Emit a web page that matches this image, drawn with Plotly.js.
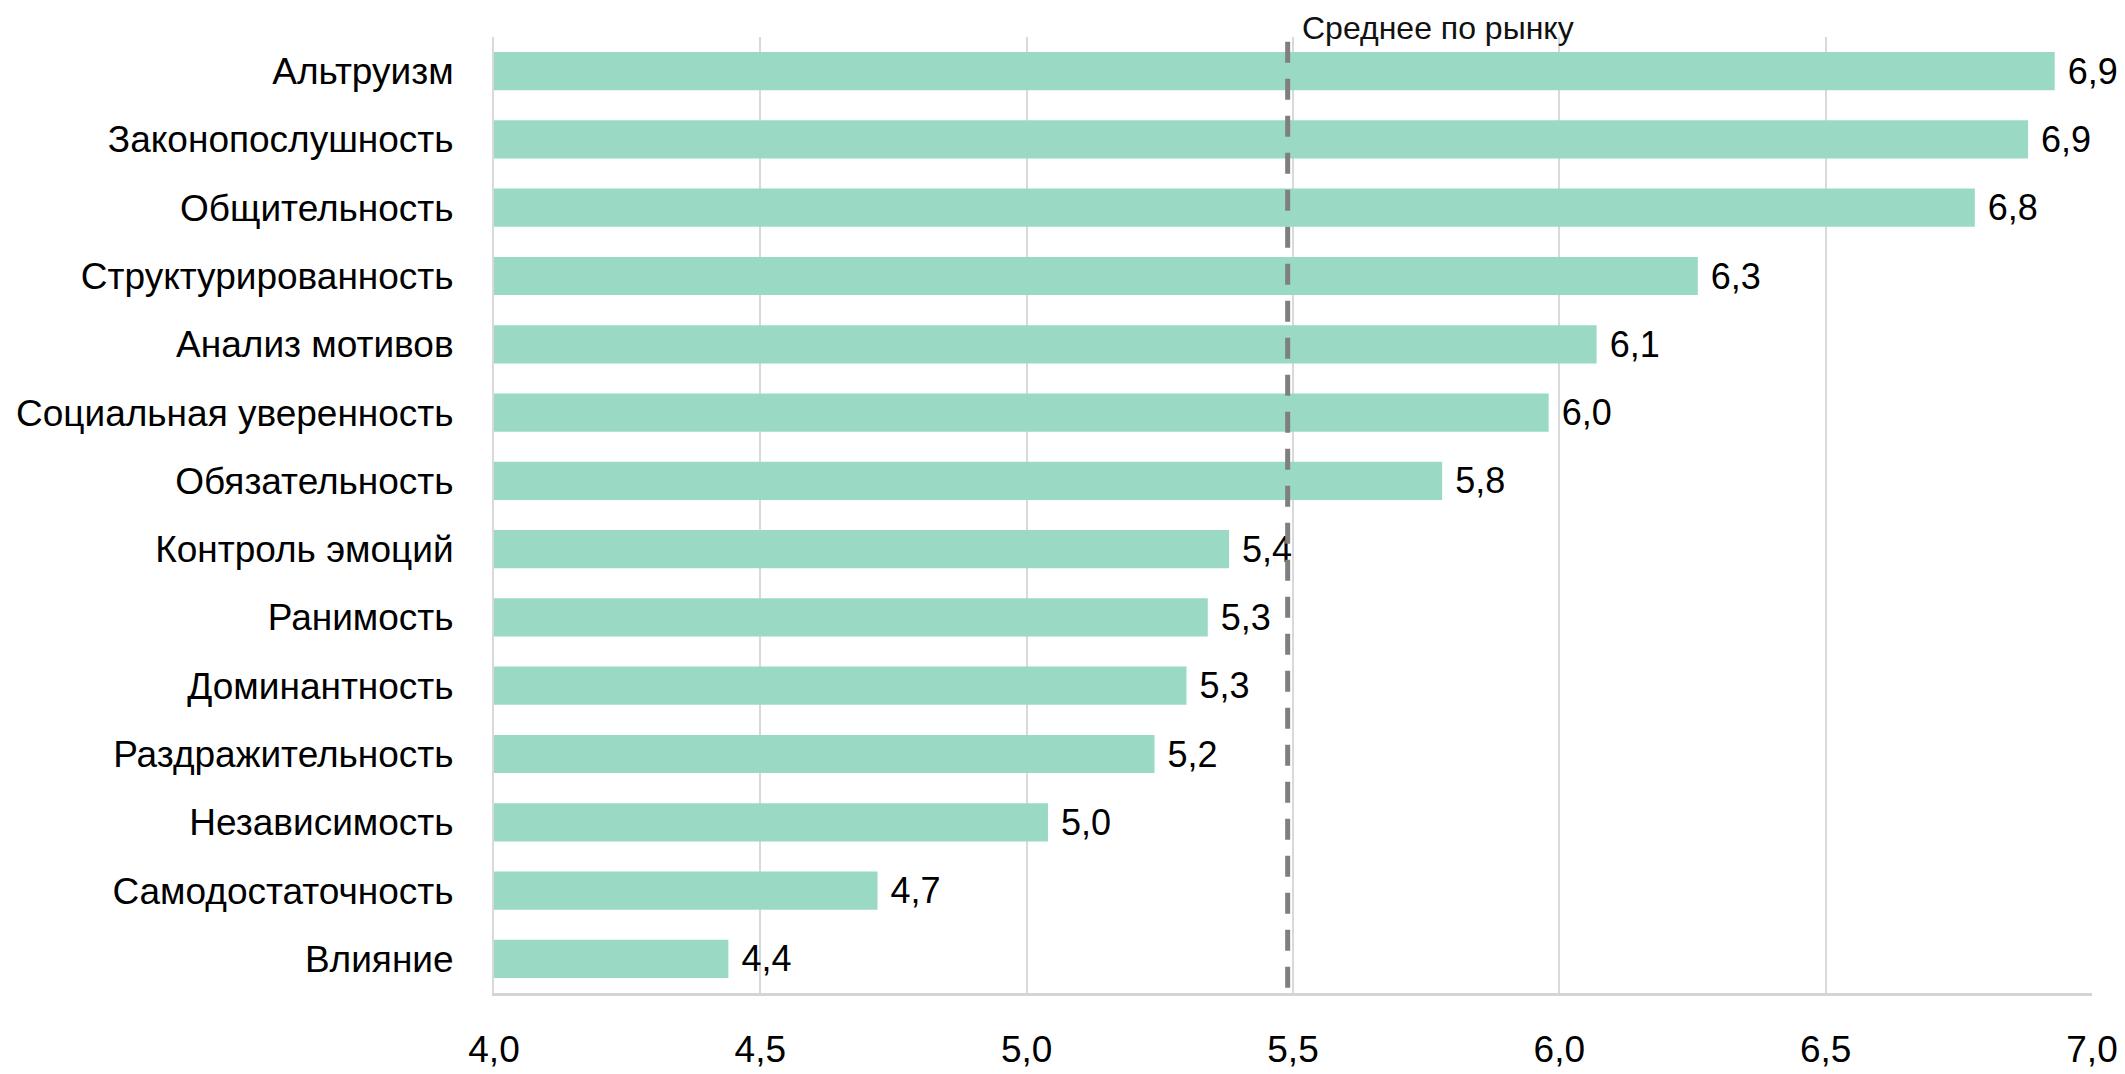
<!DOCTYPE html>
<html>
<head>
<meta charset="utf-8">
<script src="https://cdn.plot.ly/plotly-3.0.1.min.js"></script>
<style>
  html, body { margin: 0; padding: 0; background: #ffffff; }
  #chart { width: 2125px; height: 1074px; }
</style>
</head>
<body>
<div id="chart"></div>
<script>
const categories = [
  "Альтруизм",
  "Законопослушность",
  "Общительность",
  "Структурированность",
  "Анализ мотивов",
  "Социальная уверенность",
  "Обязательность",
  "Контроль эмоций",
  "Ранимость",
  "Доминантность",
  "Раздражительность",
  "Независимость",
  "Самодостаточность",
  "Влияние"
];
const values = [6.93, 6.88, 6.78, 6.26, 6.07, 5.98, 5.78, 5.38, 5.34, 5.30, 5.24, 5.04, 4.72, 4.44];
const marketAverage = 5.49;
const marketLabel = "Среднее по рынку";
const tickValues = [4.0, 4.5, 5.0, 5.5, 6.0, 6.5, 7.0];

const valueLabels = values.map(v => v.toFixed(1).replace('.', ','));
const tickLabels = tickValues.map(v => v.toFixed(1).replace('.', ','));

const FONT = '"Liberation Sans", Arial, Helvetica, sans-serif';

const trace = {
  type: 'bar',
  orientation: 'h',
  x: values,
  y: categories,
  width: 0.56,
  marker: { color: '#9adac4', line: { width: 0 } },
  text: valueLabels,
  texttemplate: '\u00A0%{text}',
  textposition: 'outside',
  constraintext: 'none',
  cliponaxis: false,
  textfont: { family: FONT, size: 36, color: '#000000' },
  hoverinfo: 'x+y'
};

const layout = {
  width: 2125,
  height: 1074,
  margin: { l: 494, r: 33, t: 37, b: 81 },
  paper_bgcolor: '#ffffff',
  plot_bgcolor: '#ffffff',
  showlegend: false,
  separators: ', ',
  font: { family: FONT, size: 37, color: '#000000' },
  xaxis: {
    range: [4.0, 7.0],
    tickmode: 'array',
    tickvals: tickValues,
    ticktext: tickLabels,
    tickformat: '.1f',
    showgrid: true,
    gridcolor: '#d9d9d9',
    gridwidth: 2,
    zeroline: false,
    showline: true,
    linecolor: '#d4d4d4',
    linewidth: 3,
    ticks: '',
    ticklabelstandoff: 22,
    tickfont: { family: FONT, size: 37, color: '#000000' }
  },
  yaxis: {
    type: 'category',
    categoryorder: 'array',
    categoryarray: categories.slice().reverse(),
    range: [-0.5, categories.length - 0.5],
    showgrid: false,
    zeroline: false,
    showline: true,
    linecolor: '#d9d9d9',
    linewidth: 2,
    ticks: '',
    ticklabelstandoff: 31,
    tickfont: { family: FONT, size: 37, color: '#000000' }
  },
  shapes: [{
    type: 'line',
    xref: 'x',
    yref: 'paper',
    x0: marketAverage,
    x1: marketAverage,
    y0: 0.995,
    y1: -0.008,
    layer: 'above',
    line: { color: '#7f7f7f', width: 5, dash: '21px,16px' }
  }],
  annotations: [{
    xref: 'x',
    yref: 'paper',
    x: marketAverage,
    y: 1.0094,
    xanchor: 'left',
    yanchor: 'middle',
    xshift: 12,
    showarrow: false,
    text: marketLabel,
    font: { family: FONT, size: 32, color: '#111111' }
  }]
};

Plotly.newPlot('chart', [trace], layout, { displayModeBar: false, staticPlot: true });
</script>
</body>
</html>
